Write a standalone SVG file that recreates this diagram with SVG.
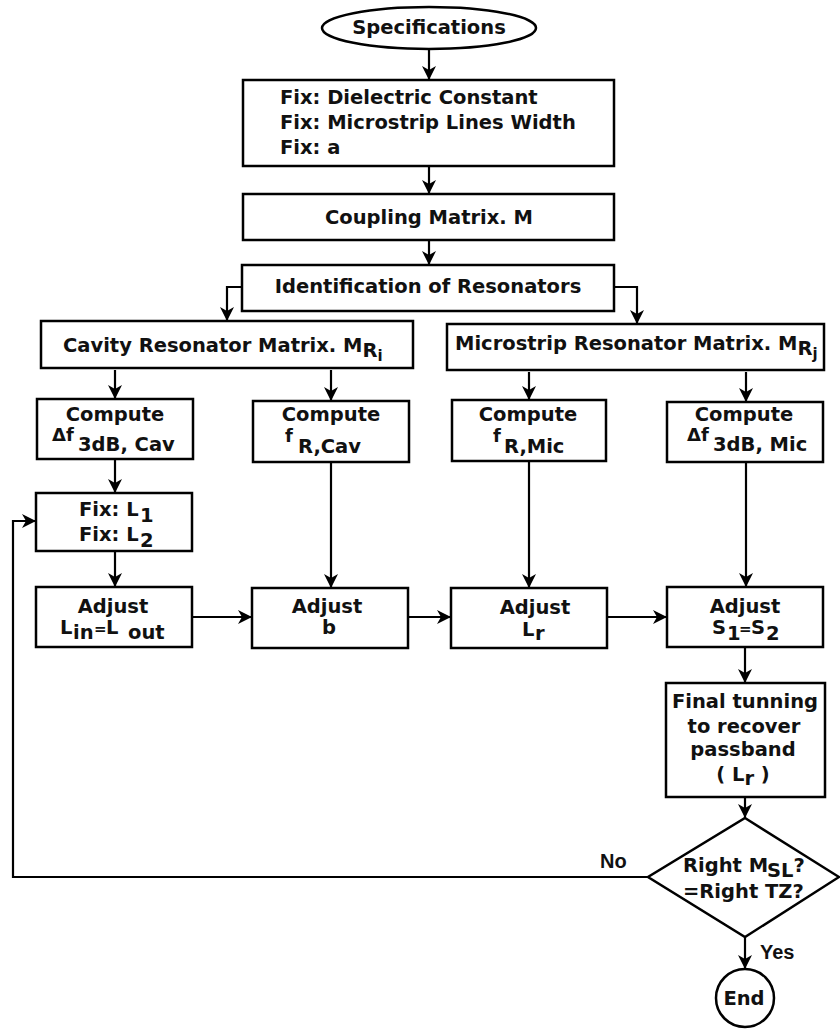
<svg xmlns="http://www.w3.org/2000/svg" width="840" height="1030" viewBox="0 0 840 1030">
<style>
  .box { fill: #ffffff; stroke: #000000; stroke-width: 2.5; }
  .t { font-family: "DejaVu Sans", Verdana, sans-serif; font-weight: bold; font-size: 19.5px; fill: #111111; }
  .c { text-anchor: middle; }
  .sm { font-size: 18px; }
  .lbl { font-family: "Liberation Sans", Arial, sans-serif; font-weight: bold; font-size: 20px; fill: #111111; }
  .conn path { fill: none; stroke: #000000; stroke-width: 2.2; marker-end: url(#arr); }
</style>
<defs>
  <marker id="arr" markerUnits="userSpaceOnUse" markerWidth="16" markerHeight="16" refX="14" refY="7" orient="auto">
    <path d="M0,0 L14,7 L0,14 L4,7 z" fill="#000000"/>
  </marker>
</defs>
<rect width="840" height="1030" fill="#ffffff"/>

<g id="connectors" class="conn">
  <path d="M429,49 V80"/>
  <path d="M429,166 V194"/>
  <path d="M429,240 V265"/>
  <path d="M242,287 H227 V321"/>
  <path d="M614,287 H637 V324"/>
  <path d="M115,370 V399"/>
  <path d="M331,370 V401"/>
  <path d="M529,372 V400"/>
  <path d="M746,372 V402"/>
  <path d="M115,459 V493"/>
  <path d="M115,551 V587"/>
  <path d="M331,462 V588"/>
  <path d="M529,461 V588"/>
  <path d="M746,462 V587"/>
  <path d="M192,617 H252"/>
  <path d="M408,617 H451"/>
  <path d="M607,617 H667"/>
  <path d="M745,647 V683"/>
  <path d="M745,797 V818"/>
  <path d="M745,937 V969"/>
  <path d="M648,877 H13 V521 H36"/>
</g>

<g id="specifications">
  <ellipse class="box" cx="429" cy="28" rx="107" ry="21"/>
  <text class="t c" x="429" y="34">Specifications</text>
</g>

<g id="fix-params">
  <rect class="box" x="243" y="80" width="371" height="86"/>
  <text class="t" x="280" y="104">Fix: Dielectric Constant</text>
  <text class="t" x="280" y="129">Fix: Microstrip Lines Width</text>
  <text class="t" x="280" y="154">Fix: a</text>
</g>

<g id="coupling-matrix">
  <rect class="box" x="243" y="194" width="371" height="46"/>
  <text class="t c" x="429" y="224">Coupling Matrix. M</text>
</g>

<g id="identification">
  <rect class="box" x="242" y="265" width="372" height="46"/>
  <text class="t c" x="428" y="293">Identification of Resonators</text>
</g>

<g id="cavity-matrix">
  <rect class="box" x="41" y="321" width="372" height="47"/>
  <text class="t" x="63" y="352">Cavity Resonator Matrix. M<tspan dy="5">R</tspan><tspan dy="4" font-size="15">i</tspan></text>
</g>

<g id="microstrip-matrix">
  <rect class="box" x="447" y="324" width="377" height="46"/>
  <text class="t" x="455" y="350">Microstrip Resonator Matrix. M<tspan dy="5">R</tspan><tspan dy="4" font-size="15">j</tspan></text>
</g>

<g id="compute-df-cav">
  <rect class="box" x="37" y="399" width="156" height="60"/>
  <text class="t c" x="115" y="421">Compute</text>
  <text class="t" y="441"><tspan class="sm" x="52">Δf</tspan><tspan x="78" dy="10">3dB, Cav</tspan></text>
</g>

<g id="compute-fr-cav">
  <rect class="box" x="253" y="401" width="156" height="61"/>
  <text class="t c" x="331" y="421">Compute</text>
  <text class="t" y="442"><tspan class="sm" x="285">f</tspan><tspan x="298" dy="11">R,Cav</tspan></text>
</g>

<g id="compute-fr-mic">
  <rect class="box" x="452" y="400" width="154" height="61"/>
  <text class="t c" x="528" y="421">Compute</text>
  <text class="t" y="442"><tspan class="sm" x="493">f</tspan><tspan x="504" dy="11">R,Mic</tspan></text>
</g>

<g id="compute-df-mic">
  <rect class="box" x="667" y="402" width="156" height="60"/>
  <text class="t c" x="744" y="421">Compute</text>
  <text class="t" y="441"><tspan class="sm" x="687">Δf</tspan><tspan x="713" dy="10">3dB, Mic</tspan></text>
</g>

<g id="fix-l1-l2">
  <rect class="box" x="36" y="493" width="156" height="58"/>
  <text class="t" x="79" y="516">Fix: L<tspan x="140" dy="6">1</tspan></text>
  <text class="t" x="79" y="541">Fix: L<tspan x="140" dy="6">2</tspan></text>
</g>

<g id="adjust-lin-lout">
  <rect class="box" x="36" y="587" width="156" height="60"/>
  <text class="t c" x="113" y="613">Adjust</text>
  <text class="t" y="634"><tspan x="60">L</tspan><tspan x="73" dy="5">in</tspan><tspan x="94" dy="-5" font-size="15">=</tspan><tspan x="106">L</tspan><tspan x="128" dy="5">out</tspan></text>
</g>

<g id="adjust-b">
  <rect class="box" x="252" y="588" width="156" height="60"/>
  <text class="t c" x="327" y="613">Adjust</text>
  <text class="t c" x="329" y="634">b</text>
</g>

<g id="adjust-lr">
  <rect class="box" x="451" y="588" width="156" height="60"/>
  <text class="t c" x="535" y="614">Adjust</text>
  <text class="t" x="522" y="636">L<tspan x="535" dy="4">r</tspan></text>
</g>

<g id="adjust-s1-s2">
  <rect class="box" x="667" y="587" width="156" height="60"/>
  <text class="t c" x="745" y="613">Adjust</text>
  <text class="t" y="634"><tspan x="712">S</tspan><tspan x="727" dy="6">1</tspan><tspan x="739" dy="-6" font-size="15">=</tspan><tspan x="751">S</tspan><tspan x="766" dy="6">2</tspan></text>
</g>

<g id="final-tuning">
  <rect class="box" x="666" y="683" width="159" height="114"/>
  <text class="t c" x="745" y="708">Final tunning</text>
  <text class="t c" x="744" y="733">to recover</text>
  <text class="t c" x="743" y="756">passband</text>
  <text class="t c" x="743" y="781">( L<tspan dy="4">r</tspan><tspan dy="-4"> )</tspan></text>
</g>

<g id="decision">
  <polygon class="box" points="745,818 839,877 745,937 648,877"/>
  <text class="t" x="683" y="872" font-size="19">Right M<tspan x="767" dy="5">SL</tspan><tspan dy="-5">?</tspan></text>
  <text class="t" x="683" y="898" font-size="19">=Right TZ?</text>
</g>

<g id="end">
  <circle class="box" cx="745" cy="998" r="29"/>
  <text class="t c" x="744" y="1005">End</text>
</g>

<g id="labels">
  <text class="lbl" x="600" y="868">No</text>
  <text class="lbl" x="760" y="959">Yes</text>
</g>
</svg>
